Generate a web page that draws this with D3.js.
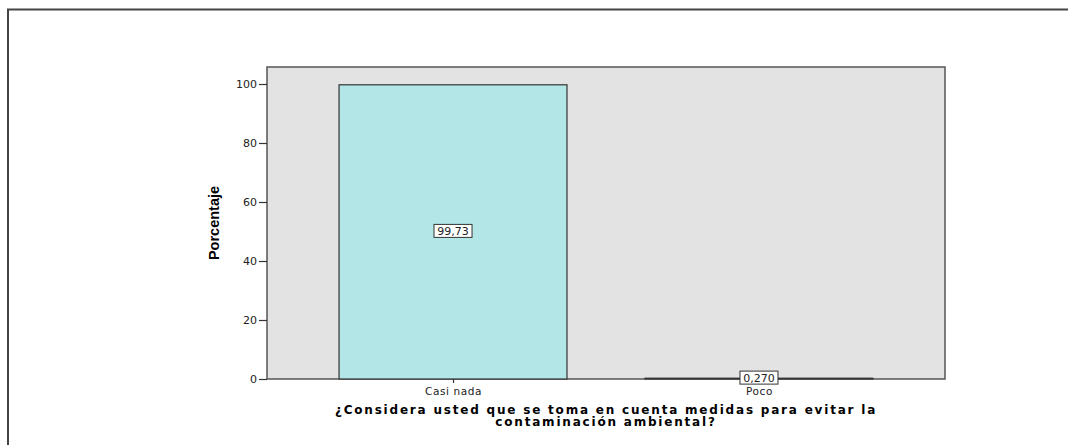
<!DOCTYPE html>
<html>
<head>
<meta charset="utf-8">
<script src="https://cdn.jsdelivr.net/npm/d3@7"></script>
<style>
  body { margin: 0; background: #fff; }
  svg { display: block; }
</style>
</head>
<body>
<div id="chart"></div>
<script>
const categories = ["Casi nada", "Poco"];
const values = [99.73, 0.27];
const valueLabels = ["99,73", "0,270"];
const yTicks = [0, 20, 40, 60, 80, 100];
const xTitle = ["¿Considera usted que se toma en cuenta medidas para evitar la", "contaminación ambiental?"];
const yTitle = "Porcentaje";

const W = 1068, H = 445;
const plot = { left: 267, top: 67, right: 945, bottom: 379 };

const svg = d3.select("#chart").append("svg")
    .attr("width", W)
    .attr("height", H);

// outer frame
svg.append("path")
    .attr("d", `M8,${H} L8,9.5 L${W},9.5`)
    .attr("fill", "none")
    .attr("stroke", "#444")
    .attr("stroke-width", 2);

const x = d3.scalePoint()
    .domain(categories)
    .range([plot.left, plot.right])
    .padding(0.608);
const barW = x.step() * 0.745;

const y = d3.scaleLinear()
    .domain([0, 100])
    .range([plot.bottom, 84]);

svg.append("rect")
    .attr("x", plot.left)
    .attr("y", plot.top)
    .attr("width", plot.right - plot.left)
    .attr("height", plot.bottom - plot.top)
    .attr("fill", "#e3e3e3")
    .attr("stroke", "#555")
    .attr("stroke-width", 1.5);

svg.selectAll("rect.bar")
    .data(values)
    .join("rect")
    .attr("class", "bar")
    .attr("x", (d, i) => x(categories[i]) - barW / 2)
    .attr("y", d => y(d))
    .attr("width", barW)
    .attr("height", d => y(0) - y(d))
    .attr("fill", "#b3e6e6")
    .attr("stroke", "#333")
    .attr("stroke-width", 1.2);

// y axis
const yAxis = svg.append("g")
    .attr("transform", `translate(${plot.left},0)`)
    .call(d3.axisLeft(y).tickValues(yTicks).tickSize(8).tickSizeOuter(0).tickPadding(2));
yAxis.select(".domain").remove();
yAxis.selectAll("line").attr("stroke", "#333").attr("stroke-width", 1.2);
yAxis.selectAll("text")
    .attr("font-family", "DejaVu Sans, sans-serif")
    .attr("font-size", 11)
    .attr("fill", "#222");

// x axis: short ticks + category labels
const xAxis = svg.append("g")
    .attr("transform", `translate(0,${plot.bottom})`)
    .call(d3.axisBottom(x).tickSize(4).tickSizeOuter(0).tickPadding(5));
xAxis.select(".domain").remove();
xAxis.selectAll("line").attr("stroke", "#333").attr("stroke-width", 1.2);
xAxis.selectAll("text")
    .attr("font-family", "DejaVu Sans, sans-serif")
    .attr("font-size", 10.5)
    .attr("letter-spacing", 0.6)
    .attr("fill", "#222");

// value labels
const lab = svg.selectAll("g.vlab")
    .data(values)
    .join("g")
    .attr("class", "vlab")
    .attr("transform", (d, i) => `translate(${x(categories[i])},${(y(d) + y(0)) / 2 - 1})`);
lab.append("rect")
    .attr("x", -19)
    .attr("y", -6.5)
    .attr("width", 38)
    .attr("height", 13)
    .attr("fill", "#fff")
    .attr("stroke", "#333")
    .attr("stroke-width", 1);
lab.append("text")
    .attr("text-anchor", "middle")
    .attr("dy", "0.36em")
    .attr("font-family", "DejaVu Sans, sans-serif")
    .attr("font-size", 11)
    .attr("fill", "#222")
    .text((d, i) => valueLabels[i]);

// axis titles
svg.append("text")
    .attr("transform", `translate(219,223) rotate(-90)`)
    .attr("text-anchor", "middle")
    .attr("font-family", "Liberation Sans Narrow, Arial Narrow, sans-serif")
    .attr("font-weight", "bold")
    .attr("font-size", 14.5)
    .attr("fill", "#000")
    .text(yTitle);

svg.selectAll("text.xt")
    .data(xTitle)
    .join("text")
    .attr("class", "xt")
    .attr("x", 606)
    .attr("y", (d, i) => 414 + i * 12)
    .attr("text-anchor", "middle")
    .attr("font-family", "DejaVu Sans, sans-serif")
    .attr("font-weight", "bold")
    .attr("font-size", 12)
    .attr("letter-spacing", 1.8)
    .attr("fill", "#000")
    .text(d => d);
</script>
</body>
</html>
